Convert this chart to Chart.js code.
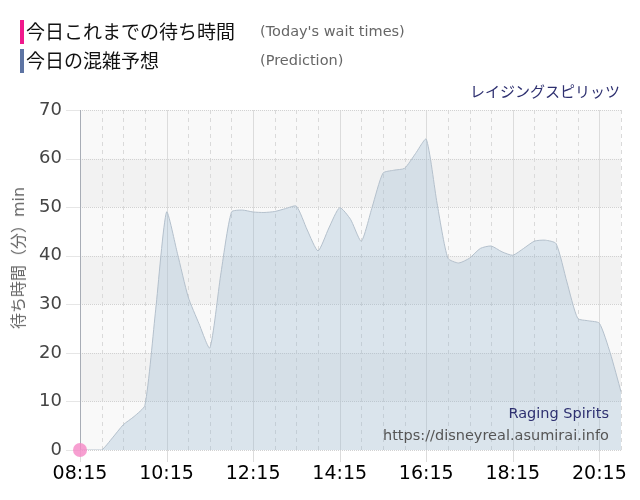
<!DOCTYPE html>
<html>
<head>
<meta charset="utf-8">
<script src="https://cdn.jsdelivr.net/npm/chart.js@4.4.1/dist/chart.umd.min.js"></script>
<style>
  html, body { margin: 0; padding: 0; background: #fff; }
  #wrap { position: relative; width: 640px; height: 500px; overflow: hidden; }
  #c { position: absolute; left: 0; top: 0; }
  .abs { position: absolute; white-space: nowrap; line-height: 1; }
  .bar { position: absolute; width: 4px; height: 24px; }
  .jp { font-family: "Noto Sans CJK JP", sans-serif; }
  .en { font-family: "DejaVu Sans", sans-serif; }
</style>
</head>
<body>
<div id="wrap">
  <canvas id="c" width="640" height="500"></canvas>
  <div class="bar" style="left:20px;top:20px;background:#f0198c;"></div>
  <div class="abs jp" style="left:26px;top:21px;font-size:19px;color:#111;">今日これまでの待ち時間</div>
  <div class="abs en" style="left:260px;top:24px;font-size:14.5px;color:#666;">(Today's wait times)</div>
  <div class="bar" style="left:20px;top:49px;background:#5d74a3;"></div>
  <div class="abs jp" style="left:26px;top:50px;font-size:19px;color:#111;">今日の混雑予想</div>
  <div class="abs en" style="left:260px;top:53px;font-size:14.5px;color:#666;">(Prediction)</div>
  <div class="abs jp" style="right:20px;top:83px;font-size:15px;color:#2e3070;">レイジングスピリッツ</div>
  <div class="abs" style="left:18px;top:258px;transform:translate(-50%,-50%) rotate(-90deg);font-size:16px;color:#666;"><span class="jp">待ち時間（分）</span><span class="en">min</span></div>
  <div class="abs en" style="right:31px;top:406px;font-size:14.5px;color:#2e3070;">Raging Spirits</div>
  <div class="abs en" style="right:31px;top:428px;font-size:14.5px;color:#555;">https://disneyreal.asumirai.info</div>
</div>
<script>
const timeLabels = ["08:15","08:30","08:45","09:00","09:15","09:30","09:45","10:00","10:15","10:30","10:45","11:00","11:15","11:30","11:45","12:00","12:15","12:30","12:45","13:00","13:15","13:30","13:45","14:00","14:15","14:30","14:45","15:00","15:15","15:30","15:45","16:00","16:15","16:30","16:45","17:00","17:15","17:30","17:45","18:00","18:15","18:30","18:45","19:00","19:15","19:30","19:45","20:00","20:15","20:30","20:45"];
const predictionValues = [0,0,0,2.5,5.2,6.9,9.2,29,49,40.5,31.5,26,21,36,49,49.4,49,48.9,49.1,49.7,50.2,45.3,41,45.7,49.9,47.5,43,50,57,57.6,58,61,64,50.8,39.5,38.5,39.5,41.5,42,40.8,40.1,41.5,43,43.2,42.5,34.6,27.1,26.6,26.1,20,12];
const waitValues = [0];
const yTicks = [0,10,20,30,40,50,60,70];
const labelEvery = 8;

const gridPlugin = {
  id: 'gridBands',
  beforeDatasetsDraw(chart) {
    const { ctx, chartArea: { left, right, top, bottom }, scales: { x, y } } = chart;
    ctx.save();
    for (let k = 0; k < yTicks.length - 1; k++) {
      const y0 = y.getPixelForValue(yTicks[k]);
      const y1 = y.getPixelForValue(yTicks[k + 1]);
      ctx.fillStyle = (k % 2 === 0) ? '#f9f9f9' : '#f2f2f2';
      ctx.fillRect(left, y1, right - left, y0 - y1);
    }
    ctx.lineWidth = 1;
    for (let i = 0; i < timeLabels.length; i++) {
      const px = Math.round(x.getPixelForValue(i)) + 0.5;
      if (i % labelEvery === 0) {
        ctx.setLineDash([]);
        ctx.strokeStyle = '#dcdcdc';
        ctx.beginPath(); ctx.moveTo(px, top); ctx.lineTo(px, bottom + 12); ctx.stroke();
      } else if (i % 2 === 0 || i === timeLabels.length - 1) {
        ctx.setLineDash([4, 4]);
        ctx.strokeStyle = '#dadada';
        ctx.beginPath(); ctx.moveTo(px, top); ctx.lineTo(px, bottom); ctx.stroke();
      }
    }
    yTicks.forEach(v => {
      const py = Math.round(y.getPixelForValue(v)) + 0.5;
      ctx.setLineDash([]);
      ctx.strokeStyle = '#e6e6e6';
      ctx.beginPath(); ctx.moveTo(left - 14, py); ctx.lineTo(left, py); ctx.stroke();
      ctx.setLineDash([1, 1]);
      ctx.strokeStyle = '#d2d2d2';
      ctx.beginPath(); ctx.moveTo(left, py); ctx.lineTo(right, py); ctx.stroke();
    });
    ctx.setLineDash([]);
    ctx.strokeStyle = '#a8adb6';
    const ax = Math.round(left) + 0.5;
    ctx.beginPath(); ctx.moveTo(ax, top); ctx.lineTo(ax, bottom); ctx.stroke();
    ctx.restore();
  }
};

new Chart(document.getElementById('c'), {
  type: 'line',
  data: {
    labels: timeLabels,
    datasets: [
      {
        label: '今日これまでの待ち時間',
        data: waitValues,
        borderColor: '#f0198c',
        backgroundColor: 'rgba(245,130,195,0.8)',
        pointBackgroundColor: 'rgba(245,135,198,0.8)',
        pointBorderWidth: 0,
        pointRadius: 7,
        showLine: false,
        clip: false
      },
      {
        label: '今日の混雑予想',
        data: predictionValues,
        borderColor: '#b4c0cc',
        borderWidth: 1,
        backgroundColor: 'rgba(145,179,205,0.3)',
        fill: 'origin',
        pointRadius: 0,
        tension: 0.2
      }
    ]
  },
  options: {
    responsive: false,
    animation: false,
    layout: { padding: { left: 0, right: 19, top: 110, bottom: 0 } },
    plugins: { legend: { display: false }, tooltip: { enabled: false } },
    scales: {
      x: {
        type: 'category',
        offset: false,
        grid: { display: false, drawTicks: false },
        border: { display: false },
        afterFit(scale) { scale.height = 50; },
        ticks: {
          autoSkip: false,
          maxRotation: 0,
          padding: 13,
          color: '#000',
          font: { family: 'DejaVu Sans', size: 19 },
          callback(v, i) { return i % labelEvery === 0 ? timeLabels[i] : ''; }
        }
      },
      y: {
        min: 0,
        max: 70,
        grid: { display: false, drawTicks: false },
        border: { display: false },
        afterFit(scale) { scale.width = 80; },
        ticks: {
          stepSize: 10,
          padding: 18,
          color: '#444',
          font: { family: 'DejaVu Sans', size: 18 }
        }
      }
    }
  },
  plugins: [gridPlugin]
});
</script>
</body>
</html>
